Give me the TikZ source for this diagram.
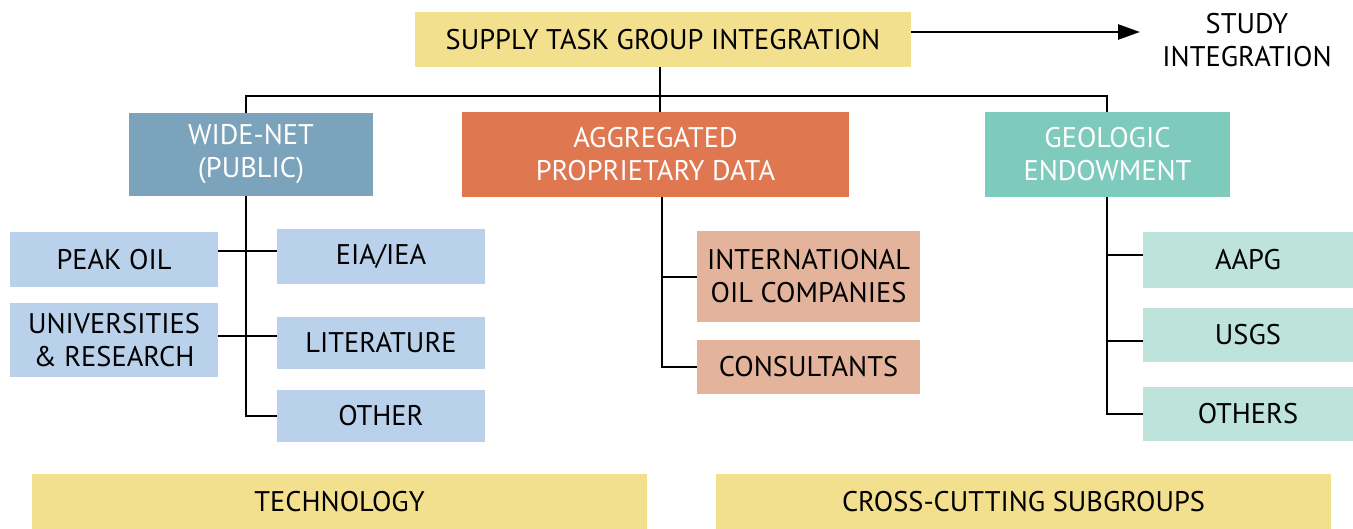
\documentclass[tikz,border=0pt]{standalone}
\usepackage{fontspec}
\setmainfont{PT Sans}
\usetikzlibrary{arrows.meta}
\definecolor{cyellow}{HTML}{F3E08F}
\definecolor{cwide}{HTML}{7BA3BB}
\definecolor{corange}{HTML}{DF7750}
\definecolor{cteal}{HTML}{7ECBBE}
\definecolor{clblue}{HTML}{BAD1EC}
\definecolor{cpeach}{HTML}{E3B49B}
\definecolor{clteal}{HTML}{BDE3DA}
\tikzset{
  box/.style={inner sep=0pt, align=center, font=\fontsize{28.4}{33}\selectfont},
  wbox/.style={box, text=white},
  conn/.style={line width=2.6pt, line join=miter},
}
\begin{document}
\begin{tikzpicture}[x=1pt,y=-1pt]
\useasboundingbox (0,0) rectangle (1353,529);
\node[box, fill=cyellow, minimum width=496, minimum height=55] (top) at (663,39.5) {SUPPLY TASK GROUP INTEGRATION};
\node[box, align=center] (study) at (1247,40) {STUDY\\INTEGRATION};
\node[wbox, fill=cwide, minimum width=244, minimum height=83] (wide) at (251,154.5) {WIDE-NET\\(PUBLIC)};
\node[wbox, fill=corange, minimum width=387, minimum height=85] (agg) at (655.5,154.5) {AGGREGATED\\PROPRIETARY DATA};
\node[wbox, fill=cteal, minimum width=245, minimum height=85] (geo) at (1107.5,154.5) {GEOLOGIC\\ENDOWMENT};
\node[box, fill=clblue, minimum width=208, minimum height=55] (peak) at (114,259.5) {PEAK OIL};
\node[box, fill=clblue, minimum width=208, minimum height=55] (eia) at (381,256.5) {EIA/IEA};
\node[box, fill=clblue, minimum width=208, minimum height=74] (univ) at (114,340) {UNIVERSITIES\\\& RESEARCH};
\node[box, fill=clblue, minimum width=208, minimum height=52] (lit) at (381,343) {LITERATURE};
\node[box, fill=clblue, minimum width=208, minimum height=52] (other) at (381,416) {OTHER};
\node[box, fill=cpeach, minimum width=223, minimum height=91] (intl) at (808.5,276.5) {INTERNATIONAL\\OIL COMPANIES};
\node[box, fill=cpeach, minimum width=223, minimum height=54] (cons) at (808.5,367) {CONSULTANTS};
\node[box, fill=clteal, minimum width=210, minimum height=56] (aapg) at (1248,260) {AAPG};
\node[box, fill=clteal, minimum width=210, minimum height=54] (usgs) at (1248,335) {USGS};
\node[box, fill=clteal, minimum width=210, minimum height=54] (others) at (1248,414) {OTHERS};
\node[box, fill=cyellow, minimum width=615, minimum height=55] (tech) at (339.5,501.5) {TECHNOLOGY};
\node[box, fill=cyellow, minimum width=615, minimum height=55] (cross) at (1023.5,501.5) {CROSS-CUTTING SUBGROUPS};
% connectors
\coordinate (tip) at (1140,32);
\coordinate (hl) at (246,96);
\coordinate (hr) at (1107,96);
\coordinate (ms) at (662,0);
\draw[conn, -{Triangle[length=22pt,width=15pt]}] (top.east |- tip) -- (tip);
\draw[conn] (top.south -| 660,0) -- (agg.north -| 660,0);
\draw[conn] (hl |- wide.north) -- (hl) -- (hr) -- (hr |- geo.north);
\draw[conn] (hl |- wide.south) -- (hl |- other.west) -- (other.west);
\draw[conn] (peak.east |- 0,251) -- (eia.west |- 0,251);
\draw[conn] (univ.east |- 0,336) -- (lit.west |- 0,336);
\draw[conn] (ms |- agg.south) -- (ms |- cons.west) -- (cons.west);
\draw[conn] (ms |- 0,277) -- (intl.west |- 0,277);
\draw[conn] (hr |- geo.south) -- (hr |- others.west) -- (others.west);
\draw[conn] (hr |- 0,255) -- (aapg.west |- 0,255);
\draw[conn] (hr |- 0,341) -- (usgs.west |- 0,341);
\end{tikzpicture}
\end{document}
